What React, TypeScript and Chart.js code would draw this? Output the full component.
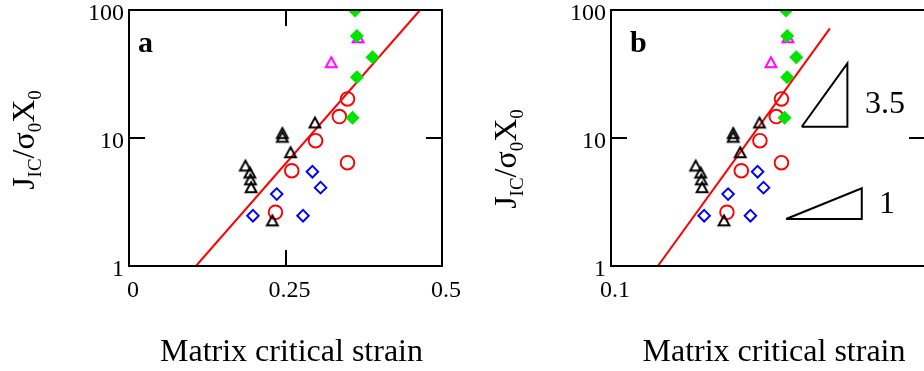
import React, { useEffect, useRef } from 'react';
import { Chart, registerables } from 'chart.js';

Chart.register(...registerables);

const FONT = "'Liberation Serif', 'Times New Roman', serif";

// ---------------- data ----------------
const blackTriX = [0.186, 0.193, 0.194, 0.195, 0.245, 0.245, 0.258, 0.297, 0.229];
const blackTriY = [5.9, 5.2, 4.6, 4.0, 10.6, 9.9, 7.5, 12.8, 2.2];
const magentaTriX = [0.323, 0.366];
const magentaTriY = [37.9, 59.3];
const greenDiaX = [0.361, 0.364, 0.389, 0.364, 0.357];
const greenDiaY = [99, 62.6, 42.7, 29.8, 14.4];
const redCircX = [0.234, 0.26, 0.298, 0.349, 0.336, 0.349];
const redCircY = [2.63, 5.55, 9.53, 6.41, 14.7, 20.2];
const blueDiaX = [0.198, 0.236, 0.278, 0.293, 0.306];
const blueDiaY = [2.47, 3.65, 2.47, 5.45, 4.09];

const fitAX = [0.107, 0.465];
const fitAY = [1, 100];
const fitBX = [0.141, 0.498];
const fitBY = [1, 71.9];

const slopeBigX = [0.405, 0.566, 0.566, 0.405];
const slopeBigY = [12.25, 12.25, 38.3, 12.25];
const slopeSmallX = [0.361, 0.629, 0.629, 0.361];
const slopeSmallY = [2.33, 2.33, 4.05, 2.33];
const slopeLabels = ['3.5', '1'];
const slopeLabelX = [0.644, 0.714];
const slopeLabelY = [15.7, 2.59];

const xTicksA = [0, 0.25, 0.5];
const xTickLabelsA = ['0', '0.25', '0.5'];
const xTicksB = [0.1, 1];
const xTickLabelsB = ['0.1', '1'];
const yTicks = [1, 10, 100];
const yTickLabels = ['1', '10', '100'];

const xTitle = 'Matrix critical strain';
const yTitleParts: [string, boolean][] = [
  ['J', false],
  ['IC', true],
  ['/', false],
  ['σ', false],
  ['0', true],
  ['X', false],
  ['0', true],
];

// ---------------- helpers ----------------
const pts = (xs: number[], ys: number[]) => xs.map((x, i) => ({ x, y: ys[i] }));

function triImage(color: string): HTMLCanvasElement {
  const c = document.createElement('canvas');
  c.width = 20;
  c.height = 24;
  const g = c.getContext('2d')!;
  const cx = 10;
  const cy = 12;
  const h = 10;
  const hw = 5.4;
  g.strokeStyle = color;
  g.lineWidth = 2;
  g.lineJoin = 'miter';
  g.beginPath();
  g.moveTo(cx, cy - (2 * h) / 3);
  g.lineTo(cx + hw, cy + h / 3);
  g.lineTo(cx - hw, cy + h / 3);
  g.closePath();
  g.stroke();
  return c;
}

function makeConfig(kind: 'a' | 'b'): any {
  const isB = kind === 'b';
  const GREEN = '#00e400';
  const datasets: any[] = [
    {
      data: pts(greenDiaX, greenDiaY),
      pointStyle: 'rectRot',
      pointRadius: 7,
      pointBackgroundColor: GREEN,
      pointBorderColor: GREEN,
      pointBorderWidth: 0,
      clip: 0,
    },
    {
      data: pts(magentaTriX, magentaTriY),
      pointStyle: triImage('#ff00ff'),
      pointRadius: 7,
      clip: 0,
    },
    {
      data: pts(blackTriX, blackTriY),
      pointStyle: triImage('#000000'),
      pointRadius: 7,
      clip: 0,
    },
    {
      data: pts(redCircX, redCircY),
      pointStyle: 'circle',
      pointRadius: 6.8,
      pointBackgroundColor: 'rgba(0,0,0,0)',
      pointBorderColor: '#ff0000',
      pointBorderWidth: 1.9,
      clip: 0,
    },
    {
      data: pts(blueDiaX, blueDiaY),
      pointStyle: 'rectRot',
      pointRadius: 5.8,
      pointBackgroundColor: 'rgba(0,0,0,0)',
      pointBorderColor: '#0000ff',
      pointBorderWidth: 1.9,
      clip: 0,
    },
    {
      data: isB ? pts(fitBX, fitBY) : pts(fitAX, fitAY),
      showLine: true,
      borderColor: '#ff0000',
      borderWidth: 2,
      pointRadius: 0,
      tension: 0,
      clip: 0,
    },
  ];
  if (isB) {
    datasets.push(
      {
        data: pts(slopeBigX, slopeBigY),
        showLine: true,
        borderColor: '#000000',
        borderWidth: 2,
        pointRadius: 0,
        tension: 0,
        clip: 0,
      },
      {
        data: pts(slopeSmallX, slopeSmallY),
        showLine: true,
        borderColor: '#000000',
        borderWidth: 2,
        pointRadius: 0,
        tension: 0,
        clip: 0,
      }
    );
  }

  const xTickVals = isB ? xTicksB : xTicksA;
  const xTickLabs = isB ? xTickLabelsB : xTickLabelsA;

  const zeroPad = (s: any) => {
    s.paddingLeft = 0;
    s.paddingRight = 0;
    s.paddingTop = 0;
    s.paddingBottom = 0;
  };

  const decor = {
    id: 'decor' + kind,
    afterDraw(chart: any) {
      const ctx = chart.ctx as CanvasRenderingContext2D;
      const { left, right, top, bottom } = chart.chartArea;
      const xs = chart.scales.x;
      const ys = chart.scales.y;
      ctx.save();
      ctx.strokeStyle = '#000';
      ctx.lineWidth = 2;
      ctx.strokeRect(left, top, right - left, bottom - top);
      // inner ticks
      const TL = 16;
      ctx.beginPath();
      if (!isB) {
        const px = Math.round(xs.getPixelForValue(0.25));
        ctx.moveTo(px, bottom);
        ctx.lineTo(px, bottom - TL);
        ctx.moveTo(px, top);
        ctx.lineTo(px, top + TL);
      }
      const py = Math.round(ys.getPixelForValue(10));
      ctx.moveTo(left, py);
      ctx.lineTo(left + TL, py);
      ctx.moveTo(right, py);
      ctx.lineTo(right - TL, py);
      ctx.stroke();

      ctx.fillStyle = '#000';
      // panel letter
      ctx.font = `bold 30px ${FONT}`;
      ctx.textAlign = 'left';
      ctx.textBaseline = 'alphabetic';
      ctx.fillText(kind, left + (isB ? 19 : 9), 52);

      // slope labels
      if (isB) {
        ctx.font = `32px ${FONT}`;
        slopeLabels.forEach((t, i) => {
          ctx.fillText(t, xs.getPixelForValue(slopeLabelX[i]), ys.getPixelForValue(slopeLabelY[i]));
        });
      }

      // x title
      ctx.font = `32px ${FONT}`;
      ctx.textAlign = 'center';
      ctx.fillText(xTitle, (left + right) / 2 + 6, 361);

      // y title
      const mainSize = 32;
      const subSize = 19;
      let total = 0;
      const widths = yTitleParts.map(([t, sub]) => {
        ctx.font = `${sub ? subSize : mainSize}px ${FONT}`;
        const w = ctx.measureText(t).width;
        total += w;
        return w;
      });
      ctx.translate(33.5, isB ? 159 : 140);
      ctx.rotate(-Math.PI / 2);
      ctx.textAlign = 'left';
      let x = -total / 2;
      yTitleParts.forEach(([t, sub], i) => {
        ctx.font = `${sub ? subSize : mainSize}px ${FONT}`;
        ctx.fillText(t, x, sub ? 7 : 0);
        x += widths[i];
      });
      ctx.restore();
    },
  };

  return {
    type: 'scatter',
    data: { datasets },
    plugins: [decor],
    options: {
      animation: false,
      responsive: false,
      events: [],
      layout: { padding: { left: 0, right: isB ? 39 : 40, top: 10, bottom: 0 } },
      plugins: { legend: { display: false }, tooltip: { enabled: false } },
      scales: {
        x: {
          type: isB ? 'logarithmic' : 'linear',
          min: isB ? 0.1 : 0,
          max: isB ? 1 : 0.5,
          afterBuildTicks: (s: any) => {
            s.ticks = xTickVals.map((v) => ({ value: v }));
          },
          afterFit: (s: any) => {
            s.height = 105;
            zeroPad(s);
          },
          ticks: {
            callback: (_v: any, i: number) => xTickLabs[i],
            font: { family: FONT, size: 24 },
            color: '#000',
            padding: 10,
            labelOffset: 4,
            maxRotation: 0,
            minRotation: 0,
            autoSkip: false,
          },
          grid: { display: false, drawTicks: false, tickLength: 0 },
          border: { display: false },
        },
        y: {
          type: 'logarithmic',
          min: 1,
          max: 100,
          afterBuildTicks: (s: any) => {
            s.ticks = yTicks.map((v) => ({ value: v }));
          },
          afterFit: (s: any) => {
            s.width = 129;
            zeroPad(s);
          },
          ticks: {
            callback: (_v: any, i: number) => yTickLabels[i],
            font: { family: FONT, size: 24 },
            color: '#000',
            padding: 5,
            labelOffset: 4,
            autoSkip: false,
          },
          grid: { display: false, drawTicks: false, tickLength: 0 },
          border: { display: false },
        },
      },
    },
  };
}

function Panel({ kind, left }: { kind: 'a' | 'b'; left: number }) {
  const ref = useRef<HTMLCanvasElement>(null);
  useEffect(() => {
    const chart = new Chart(ref.current!, makeConfig(kind));
    return () => chart.destroy();
  }, [kind]);
  return (
    <canvas
      ref={ref}
      width={482}
      height={371}
      style={{ position: 'absolute', left, top: 0, width: 482, height: 371 }}
    />
  );
}

export default function App() {
  return (
    <div
      style={{
        position: 'fixed',
        left: 0,
        top: 0,
        width: 924,
        height: 371,
        overflow: 'hidden',
        background: '#fff',
      }}
    >
      <Panel kind="a" left={0} />
      <Panel kind="b" left={482} />
    </div>
  );
}
